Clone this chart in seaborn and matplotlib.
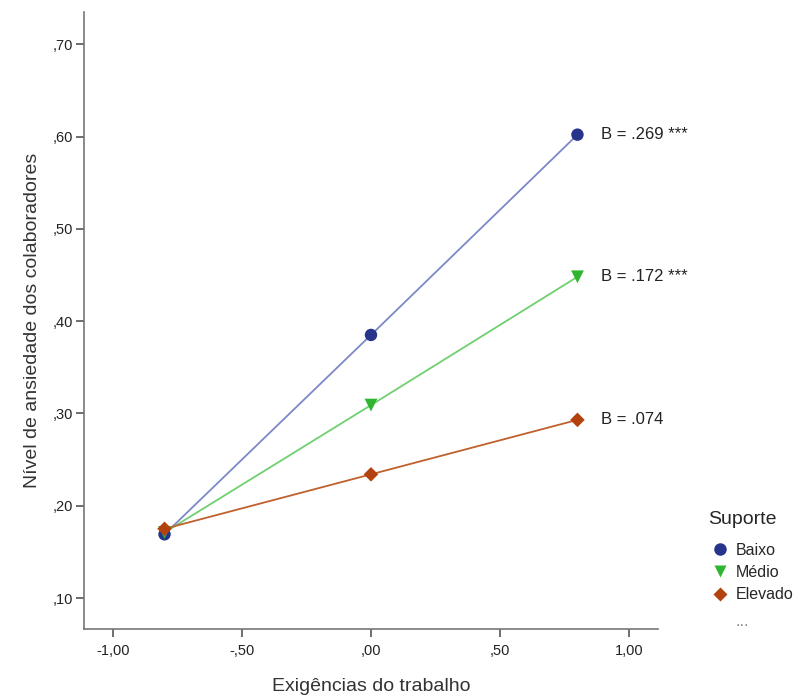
import matplotlib
matplotlib.use("Agg")
import matplotlib.pyplot as plt
import seaborn as sns
import pandas as pd
from matplotlib.lines import Line2D

# ---- data ----
groups = ["Baixo", "Médio", "Elevado"]
x_vals = [-0.8, 0.0, 0.8]
baixo = [0.169, 0.385, 0.602]
medio = [0.171, 0.309, 0.448]
elevado = [0.175, 0.234, 0.293]
annotations = ["B = .269 ***", "B = .172 ***", "B = .074"]
x_ticks = [-1.0, -0.5, 0.0, 0.5, 1.0]
x_ticklabels = ["-1,00", "-,50", ",00", ",50", "1,00"]
y_ticks = [0.1, 0.2, 0.3, 0.4, 0.5, 0.6, 0.7]
y_ticklabels = [",10", ",20", ",30", ",40", ",50", ",60", ",70"]

marker_colors = {"Baixo": "#26348c", "Médio": "#2fb52f", "Elevado": "#b3420f"}
line_colors = {"Baixo": "#7c88c8", "Médio": "#6fd06f", "Elevado": "#c0602e"}
markers = {"Baixo": "o", "Médio": "v", "Elevado": "D"}
marker_sizes = {"Baixo": 80, "Médio": 85, "Elevado": 55}

df = pd.DataFrame({
    "x": x_vals * 3,
    "y": baixo + medio + elevado,
    "Suporte": [g for g in groups for _ in x_vals],
})

sns.set_style("white")
plt.rcParams["font.family"] = ["Liberation Sans", "DejaVu Sans"]

fig = plt.figure(figsize=(8.03, 7.00), dpi=100)
ax = fig.add_axes([0.1046, 0.1014, 0.7148, 0.8816])

sns.lineplot(data=df, x="x", y="y", hue="Suporte", palette=line_colors,
             hue_order=groups, linewidth=1.3, legend=False, ax=ax, zorder=2)
for g in groups:
    sub = df[df["Suporte"] == g]
    sns.scatterplot(data=sub, x="x", y="y", color=marker_colors[g],
                    marker=markers[g], s=marker_sizes[g], edgecolor="none",
                    legend=False, ax=ax, zorder=3)

ends = [baixo[-1], medio[-1], elevado[-1]]
for yv, txt in zip(ends, annotations):
    ax.annotate(txt, (x_vals[-1], yv), xytext=(17, 0), textcoords="offset points",
                va="center", ha="left", fontsize=12, color="#222222")

ax.set_xlim(-1.112, 1.112)
ax.set_ylim(0.0664, 0.735)
ax.set_xticks(x_ticks)
ax.set_xticklabels(x_ticklabels)
ax.set_yticks(y_ticks)
ax.set_yticklabels(y_ticklabels)
ax.tick_params(axis="both", direction="out", length=6, width=1.2, color="#555555",
               labelsize=10.5, labelcolor="#222222", bottom=True, left=True)
ax.tick_params(axis="x", pad=5)
ax.tick_params(axis="y", pad=2)
for s in ["top", "right"]:
    ax.spines[s].set_visible(False)
for s in ["left", "bottom"]:
    ax.spines[s].set_color("#777777")
    ax.spines[s].set_linewidth(1.2)

ax.set_xlabel("Exigências do trabalho", fontsize=14, color="#333333", labelpad=14)
ax.set_ylabel("Nível de ansiedade dos colaboradores", fontsize=14, color="#333333", labelpad=8)

handles = [Line2D([0], [0], marker=markers[g], color="none", markerfacecolor=marker_colors[g],
                  markeredgecolor="none", markersize=9 if g != "Elevado" else 7.5, label=g)
           for g in groups]
leg = fig.legend(handles=handles, title="Suporte", loc="upper left",
                 bbox_to_anchor=(0.872, 0.282), frameon=False, fontsize=11.5,
                 title_fontsize=14, handletextpad=0.2, labelspacing=0.45,
                 borderpad=0, handlelength=1.5)
leg._legend_box.align = "left"
leg._legend_box.sep = 11
fig.text(0.916, 0.106, "...", fontsize=12, color="#888888", ha="left")

fig.savefig("out.png", dpi=100)
